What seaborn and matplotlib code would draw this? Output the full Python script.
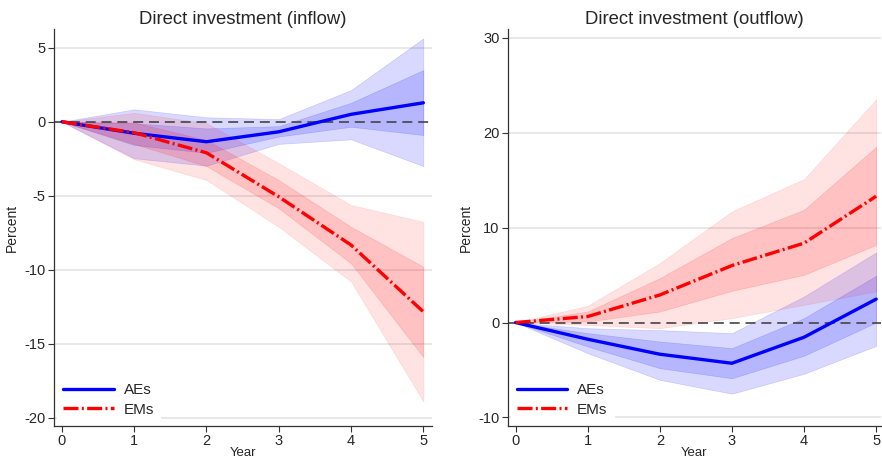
import numpy as np
import pandas as pd
import matplotlib
matplotlib.use("Agg")
import matplotlib.pyplot as plt
import seaborn as sns

years = [0, 1, 2, 3, 4, 5]

# Inflow panel
in_ae = [0, -0.78, -1.35, -0.68, 0.50, 1.28]
in_ae_lo90 = [0, -2.47, -2.97, -1.50, -1.19, -3.00]
in_ae_hi90 = [0, 0.84, 0.30, 0.18, 2.14, 5.63]
in_ae_lo68 = [0, -1.57, -2.10, -1.00, -0.34, -0.90]
in_ae_hi68 = [0, -0.10, -0.45, -0.30, 1.28, 3.49]

in_em = [0, -0.74, -2.10, -5.07, -8.33, -12.84]
in_em_lo90 = [0, -2.54, -3.94, -7.10, -10.80, -18.90]
in_em_hi90 = [0, 0.60, -0.10, -2.80, -5.63, -6.76]
in_em_lo68 = [0, -1.50, -3.00, -5.85, -9.57, -15.90]
in_em_hi68 = [0, -0.05, -1.24, -3.94, -7.10, -9.80]

# Outflow panel
out_ae = [0, -1.76, -3.34, -4.29, -1.55, 2.46]
out_ae_lo90 = [0, -3.23, -6.04, -7.50, -5.40, -2.46]
out_ae_hi90 = [0, -0.60, -0.80, -1.12, 2.74, 7.38]
out_ae_lo68 = [0, -2.53, -4.81, -5.87, -3.50, 0.00]
out_ae_hi68 = [0, -1.12, -2.00, -2.70, 0.46, 4.92]

out_em = [0, 0.63, 2.90, 6.00, 8.36, 13.30]
out_em_lo90 = [0, -0.25, -0.60, 0.46, 1.86, 3.27]
out_em_hi90 = [0, 1.76, 6.25, 11.70, 15.10, 23.50]
out_em_lo68 = [0, 0.10, 1.16, 3.34, 5.02, 8.18]
out_em_hi68 = [0, 1.16, 4.67, 8.89, 11.87, 18.50]

titles = ["Direct investment (inflow)", "Direct investment (outflow)"]
yticks_list = [[5, 0, -5, -10, -15, -20], [30, 20, 10, 0, -10]]
ylims = [(-20.56, 6.26), (-10.9, 30.9)]

sns.set_theme(style="white")
plt.rcParams["font.family"] = ["Liberation Sans", "DejaVu Sans"]
plt.rcParams["axes.unicode_minus"] = False

fig = plt.figure(figsize=(8.82, 4.61), dpi=100)
ax1 = fig.add_axes([0.0612, 0.0759, 0.4286, 0.861])
ax2 = fig.add_axes([0.5756, 0.0759, 0.4235, 0.861])

panels = [
    (ax1, in_ae, in_ae_lo90, in_ae_hi90, in_ae_lo68, in_ae_hi68,
     in_em, in_em_lo90, in_em_hi90, in_em_lo68, in_em_hi68),
    (ax2, out_ae, out_ae_lo90, out_ae_hi90, out_ae_lo68, out_ae_hi68,
     out_em, out_em_lo90, out_em_hi90, out_em_lo68, out_em_hi68),
]

for i, (ax, ae, ael9, aeh9, ael6, aeh6, em, eml9, emh9, eml6, emh6) in enumerate(panels):
    df = pd.DataFrame({"Year": years, "AEs": ae, "EMs": em})
    for yv in yticks_list[i]:
        if yv != 0:
            ax.axhline(yv, color="#e6e6e6", lw=1.3, zorder=0)
    # bands
    ax.fill_between(years, ael9, aeh9, color="#0000ff", alpha=0.15, lw=0.5, zorder=1)
    ax.fill_between(years, ael6, aeh6, color="#0000ff", alpha=0.16, lw=0.5, zorder=1)
    ax.fill_between(years, eml9, emh9, color="#ff0000", alpha=0.11, lw=0.5, zorder=1)
    ax.fill_between(years, eml6, emh6, color="#ff0000", alpha=0.15, lw=0.5, zorder=1)
    ax.axhline(0, color="#444444", lw=1.2, linestyle=(0, (6, 3.5)), zorder=2)
    sns.lineplot(data=df, x="Year", y="AEs", ax=ax, color="#0000ff", lw=2.4,
                 label="AEs", zorder=3)
    sns.lineplot(data=df, x="Year", y="EMs", ax=ax, color="#ff0000", lw=2.4,
                 linestyle=(0, (4.5, 1.0, 0.6, 1.0)), label="EMs", zorder=3)
    ax.set_xlim(-0.11, 5.12 if i == 0 else 5.07)
    ax.set_ylim(*ylims[i])
    ax.set_xticks(years)
    ax.set_yticks(yticks_list[i])
    ax.set_title(titles[i], fontsize=13.3, pad=4)
    ax.set_xlabel("Year", fontsize=9.5, labelpad=-0.5)
    ax.set_ylabel("Percent", fontsize=10, labelpad=4)
    ax.tick_params(axis="both", labelsize=10.5, length=4, width=0.8, direction="out",
                   color="#333333", bottom=True, left=True, pad=2)
    ax.tick_params(axis="x", pad=1.5)
    for s in ["top", "right"]:
        ax.spines[s].set_visible(False)
    for s in ["left", "bottom"]:
        ax.spines[s].set_color("#333333")
        ax.spines[s].set_linewidth(0.9)
    leg = ax.legend(loc="lower left", frameon=True, fontsize=11, handlelength=3.3,
                    handletextpad=0.65, borderaxespad=0.2, labelspacing=0.35)
    leg.get_frame().set_edgecolor("white")
    leg.get_frame().set_facecolor("white")
    leg.get_frame().set_alpha(1)
    leg.set_zorder(5)

fig.savefig("out.png", dpi=100)
